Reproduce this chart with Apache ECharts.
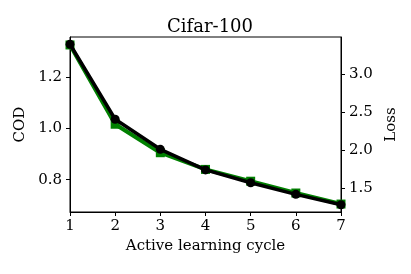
<!DOCTYPE html>
<html><head><meta charset="utf-8">
<script src="https://cdn.jsdelivr.net/npm/echarts@6/dist/echarts.min.js"></script>
<style>html,body{margin:0;padding:0;background:#fff}#c{width:411px;height:274px}</style>
</head><body><div id="c"></div>
<script>
const cycles = [1, 2, 3, 4, 5, 6, 7];
const codValues = [1.325, 1.016, 0.905, 0.840, 0.794, 0.748, 0.705];
const lossValues = [3.396, 2.405, 2.008, 1.736, 1.566, 1.413, 1.276];
const leftTicks = [0.8, 1.0, 1.2];
const rightTicks = [1.5, 2.0, 2.5, 3.0];

const F = 'DejaVu Serif';
const FS = 15;
const chart = echarts.init(document.getElementById('c'), null, {renderer: 'canvas'});
const tickStyle = {show: true, inside: false, length: 4, lineStyle: {color: '#000', width: 1}};
chart.setOption({
  animation: false,
  backgroundColor: '#fff',
  title: {text: 'Cifar-100', left: 205, top: 13, textAlign: 'center',
    textStyle: {fontFamily: F, fontSize: 18, fontWeight: 'normal', color: '#000'}},
  grid: {left: 70, right: 70, top: 37, bottom: 62, show: true, borderColor: '#000', borderWidth: 1},
  xAxis: {type: 'value', min: 1, max: 7, interval: 1,
    name: 'Active learning cycle', nameLocation: 'middle', nameGap: 26,
    nameTextStyle: {fontFamily: F, fontSize: FS, color: '#000'},
    axisLine: {lineStyle: {color: '#000', width: 1}}, axisTick: tickStyle,
    axisLabel: {fontFamily: F, fontSize: FS, color: '#000', margin: 7},
    splitLine: {show: false}},
  yAxis: [
    {type: 'value', min: 0.674, max: 1.356, position: 'left',
      name: 'COD', nameLocation: 'middle', nameGap: 39, nameRotate: 90,
      nameTextStyle: {fontFamily: F, fontSize: FS, color: '#000'},
      axisLine: {show: true, lineStyle: {color: '#000', width: 1}},
      axisLabel: {fontFamily: F, fontSize: FS, color: '#000', margin: 8,
        customValues: leftTicks, formatter: v => v.toFixed(1)},
      axisTick: Object.assign({customValues: leftTicks}, tickStyle),
      splitLine: {show: false}},
    {type: 'value', min: 1.18, max: 3.492, position: 'right',
      name: 'Loss', nameLocation: 'middle', nameGap: 36, nameRotate: 90,
      nameTextStyle: {fontFamily: F, fontSize: FS, color: '#000'},
      axisLine: {show: true, lineStyle: {color: '#000', width: 1}},
      axisLabel: {fontFamily: F, fontSize: FS, color: '#000', margin: 8,
        customValues: rightTicks, formatter: v => v.toFixed(1)},
      axisTick: Object.assign({customValues: rightTicks}, tickStyle),
      splitLine: {show: false}}
  ],
  series: [
    {type: 'line', yAxisIndex: 0, data: cycles.map((c, i) => [c, codValues[i]]),
      symbol: 'rect', symbolSize: 9, itemStyle: {color: '#008000'},
      lineStyle: {color: '#008000', width: 4}, z: 2},
    {type: 'line', yAxisIndex: 1, data: cycles.map((c, i) => [c, lossValues[i]]),
      symbol: 'circle', symbolSize: 9, itemStyle: {color: '#000'},
      lineStyle: {color: '#000', width: 3.5}, z: 3}
  ]
});
</script></body></html>
